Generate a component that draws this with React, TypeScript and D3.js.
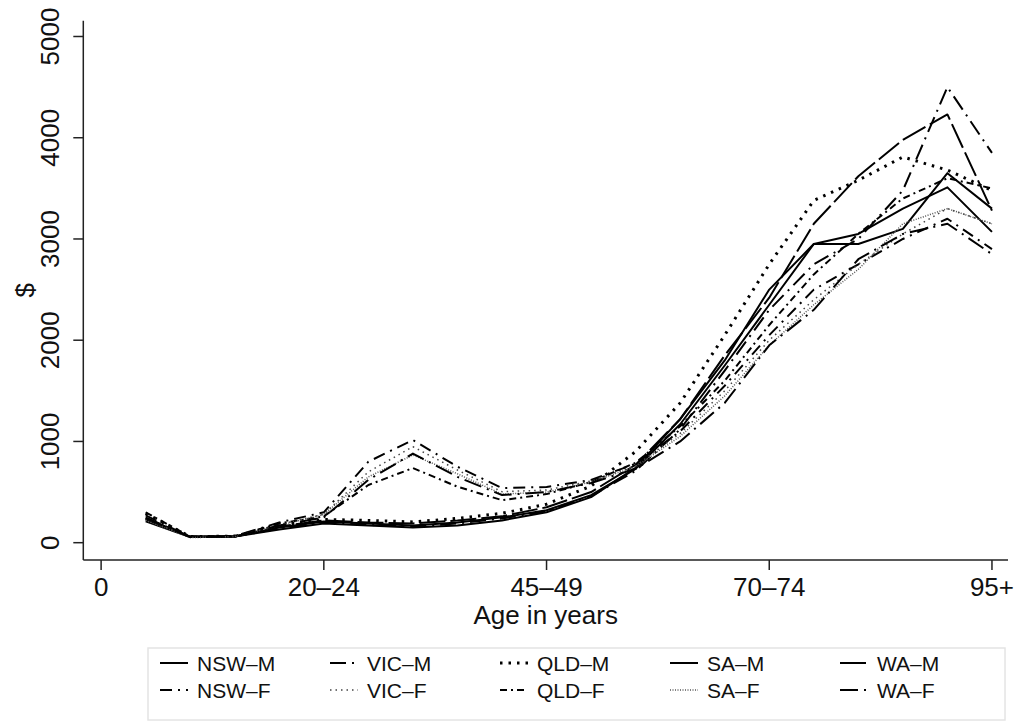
import React, { useEffect, useRef } from 'react';
import * as d3 from 'd3';

// age groups are plotted at index 1..20 (0-4 = 1, 95+ = 20)
const ageGroups = ['0–4', '5–9', '10–14', '15–19', '20–24', '25–29', '30–34', '35–39', '40–44', '45–49',
    '50–54', '55–59', '60–64', '65–69', '70–74', '75–79', '80–84', '85–89', '90–94', '95+'];
const xTickValues = [0, 5, 10, 15, 20];
const xTickLabels = ['0', '20–24', '45–49', '70–74', '95+'];
const yTickValues = [0, 1000, 2000, 3000, 4000, 5000];

// $ per person, by age group
const nswM = [230, 60, 60, 150, 210, 190, 170, 200, 250, 320, 470, 730, 1170, 1750, 2350, 2950, 3050, 3300, 3510, 3070];
const vicM = [250, 55, 60, 140, 200, 175, 160, 190, 240, 310, 460, 710, 1120, 1700, 2300, 2750, 3000, 3480, 4500, 3850];
const qldM = [290, 60, 65, 170, 230, 220, 205, 240, 290, 380, 560, 900, 1380, 2050, 2750, 3380, 3580, 3810, 3680, 3480];
const saM = [210, 55, 60, 130, 190, 170, 150, 170, 220, 300, 450, 740, 1220, 1800, 2500, 2950, 2950, 3100, 3650, 3300];
const waM = [240, 60, 60, 160, 220, 200, 190, 220, 260, 350, 500, 770, 1220, 1850, 2420, 3150, 3620, 3980, 4230, 3280];
const nswF = [270, 55, 65, 200, 300, 800, 1015, 750, 540, 550, 620, 780, 1100, 1550, 2050, 2500, 2750, 3000, 3200, 2900];
const vicF = [230, 55, 60, 180, 280, 700, 948, 718, 504, 520, 610, 760, 1080, 1500, 2000, 2400, 2750, 3050, 3300, 3150];
const qldF = [300, 60, 65, 190, 260, 570, 737, 553, 420, 480, 600, 790, 1150, 1600, 2150, 2650, 3050, 3400, 3600, 3500];
const saF = [220, 50, 60, 170, 280, 650, 866, 680, 480, 500, 600, 750, 1050, 1450, 1950, 2350, 2700, 3150, 3300, 3150];
const waF = [240, 55, 60, 170, 250, 620, 880, 650, 470, 500, 590, 730, 1000, 1380, 1950, 2300, 2800, 3050, 3150, 2850];

const seriesNames = ['NSW–M', 'VIC–M', 'QLD–M', 'SA–M', 'WA–M', 'NSW–F', 'VIC–F', 'QLD–F', 'SA–F', 'WA–F'];
const seriesValues = [nswM, vicM, qldM, saM, waM, nswF, vicF, qldF, saF, waF];

// line patterns, same order as seriesNames
const lineStyles = [
    { dash: null, width: 2, color: '#000' },
    { dash: '16,6,2,6', width: 2, color: '#000' },
    { dash: '2.5,6', width: 3, color: '#000' },
    { dash: null, width: 2, color: '#000' },
    { dash: '26,5', width: 2, color: '#000' },
    { dash: '12,6,2,6', width: 2, color: '#000' },
    { dash: '1.5,4', width: 1.5, color: '#444' },
    { dash: '7,4,2,4', width: 2, color: '#000' },
    { dash: '1,1.5', width: 1.5, color: '#555' },
    { dash: '18,6,2,6', width: 2, color: '#000' },
];

export default function App() {
    const svgRef = useRef(null);

    useEffect(() => {
        document.body.style.margin = '0';
        if (!svgRef.current) return;

        const svg = d3.select(svgRef.current);
        svg.selectAll('*').remove();

        const font = 'Liberation Sans, Arial, sans-serif';
        const left = 83.3, right = 1008, top = 20.7, bottom = 560;

        const x = d3.scaleLinear().domain([-0.4, 20.36]).range([left, right]);
        const y = d3.scaleLinear().domain([-171, 5156]).range([bottom, top]);

        svg.append('rect').attr('width', 1020).attr('height', 725).attr('fill', '#fff');

        // Axes lines
        svg.append('line').attr('x1', left).attr('x2', left).attr('y1', top).attr('y2', bottom)
            .attr('stroke', '#222').attr('stroke-width', 1.5);
        svg.append('line').attr('x1', left).attr('x2', right).attr('y1', bottom).attr('y2', bottom)
            .attr('stroke', '#222').attr('stroke-width', 1.5);

        // Y ticks
        const yt = svg.append('g').selectAll('g').data(yTickValues).join('g');
        yt.append('line').attr('x1', left - 10).attr('x2', left)
            .attr('y1', d => y(d)).attr('y2', d => y(d)).attr('stroke', '#222').attr('stroke-width', 1.5);
        yt.append('text')
            .attr('transform', d => `translate(59,${y(d)}) rotate(-90)`)
            .attr('text-anchor', 'middle')
            .attr('font-family', font).attr('font-size', 26).attr('fill', '#111')
            .text(d => d);

        // X ticks
        const xt = svg.append('g').selectAll('g').data(xTickValues).join('g');
        xt.append('line').attr('x1', d => x(d)).attr('x2', d => x(d))
            .attr('y1', bottom).attr('y2', bottom + 10).attr('stroke', '#222').attr('stroke-width', 1.5);
        xt.append('text')
            .attr('x', d => x(d)).attr('y', 596)
            .attr('text-anchor', 'middle')
            .attr('font-family', font).attr('font-size', 26).attr('fill', '#111')
            .text((d, i) => xTickLabels[i]);

        // Axis titles
        svg.append('text').attr('x', (left + right) / 2).attr('y', 624)
            .attr('text-anchor', 'middle').attr('font-family', font).attr('font-size', 26).attr('fill', '#111')
            .text('Age in years');
        svg.append('text')
            .attr('transform', `translate(34,${(top + bottom) / 2}) rotate(-90)`)
            .attr('text-anchor', 'middle').attr('font-family', font).attr('font-size', 26).attr('fill', '#111')
            .text('$');

        // Lines
        const line = d3.line()
            .x((d, i) => x(i + 1))
            .y(d => y(d));

        svg.append('g').selectAll('path')
            .data(seriesValues)
            .join('path')
            .attr('fill', 'none')
            .attr('stroke', (d, i) => lineStyles[i].color)
            .attr('stroke-width', (d, i) => lineStyles[i].width)
            .attr('stroke-dasharray', (d, i) => lineStyles[i].dash)
            .attr('stroke-linejoin', 'round')
            .attr('d', d => line(d));

        // Legend
        const lg = svg.append('g');
        lg.append('rect').attr('x', 148).attr('y', 648).attr('width', 857).attr('height', 72)
            .attr('fill', '#fff').attr('stroke', '#e4e4e4').attr('stroke-width', 1.5);

        const items = lg.selectAll('g.item').data(seriesNames).join('g').attr('class', 'item')
            .attr('transform', (d, i) => `translate(${160 + (i % 5) * 170},${i < 5 ? 663 : 690})`);
        items.append('line').attr('x1', 0).attr('x2', 28).attr('y1', 0).attr('y2', 0)
            .attr('stroke', (d, i) => lineStyles[i].color)
            .attr('stroke-width', (d, i) => lineStyles[i].width)
            .attr('stroke-dasharray', (d, i) => lineStyles[i].dash);
        items.append('text').attr('x', 37).attr('y', 7.5)
            .attr('font-family', font).attr('font-size', 21).attr('fill', '#111')
            .text(d => d);
    }, []);

    return <svg ref={svgRef} width={1020} height={725} style={{ display: 'block' }} />;
}
